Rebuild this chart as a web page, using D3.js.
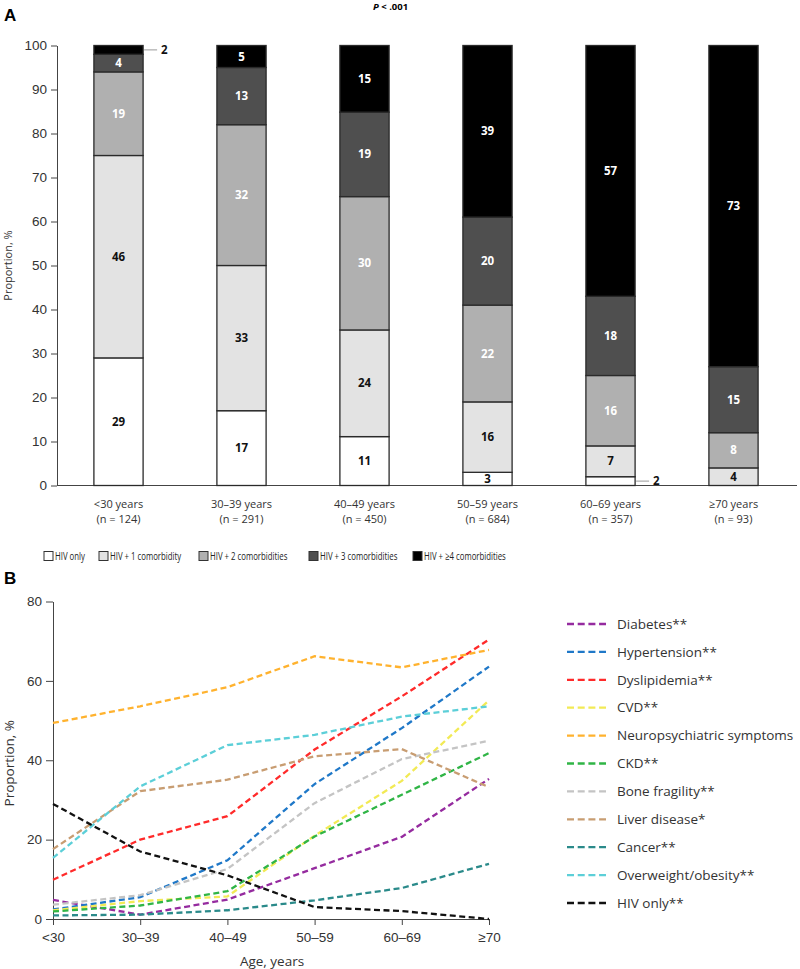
<!DOCTYPE html>
<html>
<head>
<meta charset="utf-8">
<script src="https://cdn.jsdelivr.net/npm/d3@7"></script>
<style>
  html, body { margin: 0; padding: 0; background: #fff; }
  svg { display: block; font-family: "Open Sans", "Noto Sans", sans-serif; }
  .axis path, .axis line { stroke: #444; }
  .axis text { fill: #333; }
</style>
</head>
<body>
<svg id="chart" width="800" height="969"></svg>
<script>
// --- Panel A data: comorbidity burden by age group (%)
const ageGroups = ["<30 years", "30–39 years", "40–49 years", "50–59 years", "60–69 years", "≥70 years"];
const groupN = ["(n = 124)", "(n = 291)", "(n = 450)", "(n = 684)", "(n = 357)", "(n = 93)"];
const hivOnly = [29, 17, 11, 3, 2, 0];
const oneComorb = [46, 33, 24, 16, 7, 4];
const twoComorb = [19, 32, 30, 22, 16, 8];
const threeComorb = [4, 13, 19, 20, 18, 15];
const fourPlusComorb = [2, 5, 15, 39, 57, 73];
const stackNames = ["HIV only", "HIV + 1 comorbidity", "HIV + 2 comorbidities", "HIV + 3 comorbidities", "HIV + ≥4 comorbidities"];

// --- Panel B data: prevalence of each condition by age (%)
const ageTicks = ["<30", "30–39", "40–49", "50–59", "60–69", "≥70"];
const diabetes = [4.8, 1.1, 4.9, 12.8, 20.7, 35.3];
const hypertension = [2.4, 5.5, 14.8, 34, 48.1, 63.6];
const dyslipidemia = [9.9, 20, 25.9, 42.7, 56.1, 70.4];
const cvd = [2.2, 4.5, 5.7, 21, 34.8, 55.1];
const neuropsych = [49.4, 53.6, 58.4, 66.2, 63.4, 67.8];
const ckd = [1.9, 3.4, 7, 20.8, 31.3, 41.8];
const boneFragility = [3.6, 6, 12.6, 29.2, 40.3, 44.9];
const liverDisease = [17.6, 32.2, 35.1, 41, 42.8, 33.2];
const cancer = [0.9, 1.1, 2.2, 4.7, 7.8, 13.9];
const overweight = [15.4, 33.4, 43.8, 46.4, 51, 53.6];
const hivOnlyLine = [29, 17, 11, 3, 2, 0];
const lineNames = ["Diabetes**", "Hypertension**", "Dyslipidemia**", "CVD**", "Neuropsychiatric symptoms",
  "CKD**", "Bone fragility**", "Liver disease*", "Cancer**", "Overweight/obesity**", "HIV only**"];

const svg = d3.select("#chart");

// ---------------- Panel A ----------------
const stackFill = ["#ffffff", "#e3e3e3", "#b0b0b0", "#4f4f4f", "#000000"];
const stackText = ["#111", "#111", "#fff", "#fff", "#fff"];
const seriesA = [hivOnly, oneComorb, twoComorb, threeComorb, fourPlusComorb];

const rowsA = ageGroups.map((g, i) => {
  const r = { group: g };
  stackNames.forEach((s, k) => { r[s] = seriesA[k][i]; });
  return r;
});
const stacked = d3.stack().keys(stackNames).offset(d3.stackOffsetExpand)(rowsA);

const xA = d3.scaleBand().domain(ageGroups).range([57, 795]).paddingInner(0.6).paddingOuter(0.3);
const yA = d3.scaleLinear().domain([0, 100]).range([485.5, 45.5]);

svg.append("text").attr("x", 4).attr("y", 21).attr("font-size", 17).attr("font-weight", 700)
  .attr("font-family", "Liberation Sans, Arial, sans-serif").text("A");
svg.append("text").attr("x", 373).attr("y", 10).attr("font-size", 9.5).attr("font-weight", 700)
  .html('<tspan font-style="italic">P</tspan> &lt; .001');

const yAxisA = svg.append("g").attr("class", "axis").attr("transform", "translate(57,0)")
  .call(d3.axisLeft(yA).tickValues(d3.range(0, 101, 10)).tickSize(6).tickSizeOuter(0));
yAxisA.selectAll("text").attr("font-size", 13.5).attr("dx", -1);

svg.append("line").attr("x1", 57).attr("x2", 797).attr("y1", yA(0)).attr("y2", yA(0))
  .attr("stroke", "#444");

svg.append("text").attr("transform", `translate(12,${(yA(0) + yA(100)) / 2}) rotate(-90)`)
  .attr("text-anchor", "middle").attr("font-size", 11).attr("fill", "#333").text("Proportion, %");

const layers = svg.append("g").selectAll("g").data(stacked).join("g")
  .attr("fill", (d, k) => stackFill[k]);
layers.selectAll("rect").data(d => d).join("rect")
  .attr("x", d => xA(d.data.group))
  .attr("width", xA.bandwidth())
  .attr("y", d => yA(d[1] * 100))
  .attr("height", d => yA(d[0] * 100) - yA(d[1] * 100))
  .attr("stroke", "#2a2a2a").attr("stroke-width", 1.3);

// segment labels
stacked.forEach((layer, k) => {
  layer.forEach((d, i) => {
    const v = seriesA[k][i];
    if (v === 0) return;
    const cy = yA((d[0] + d[1]) * 50);
    const x0 = xA(d.data.group);
    if (v < 3) {
      const xr = x0 + xA.bandwidth();
      svg.append("line").attr("x1", xr + 1).attr("x2", xr + 14).attr("y1", cy).attr("y2", cy)
        .attr("stroke", "#999").attr("stroke-width", 1);
      svg.append("text").attr("x", xr + 18).attr("y", cy).attr("dy", "0.35em")
        .attr("font-size", 11.5).attr("font-weight", 700).attr("fill", "#111").text(v);
    } else {
      svg.append("text").attr("x", x0 + xA.bandwidth() / 2).attr("y", cy).attr("dy", "0.35em")
        .attr("text-anchor", "middle").attr("font-size", 11.5).attr("font-weight", 700)
        .attr("fill", stackText[k]).text(v);
    }
  });
});

// category labels
ageGroups.forEach((g, i) => {
  const cx = xA(g) + xA.bandwidth() / 2;
  const t = svg.append("text").attr("text-anchor", "middle").attr("font-size", 11).attr("fill", "#333");
  t.append("tspan").attr("x", cx).attr("y", 508).text(g);
  t.append("tspan").attr("x", cx).attr("y", 523).text(groupN[i]);
});

// legend A (condensed text, like the original)
const legendAX = [44, 99, 199, 309, 413];
stackNames.forEach((s, k) => {
  svg.append("rect").attr("x", legendAX[k]).attr("y", 551.5).attr("width", 9).attr("height", 9)
    .attr("fill", stackFill[k]).attr("stroke", "#333").attr("stroke-width", 1);
  svg.append("text").attr("transform", `translate(${legendAX[k] + 11},556) scale(0.71,1)`)
    .attr("dy", "0.35em").attr("font-size", 11).attr("fill", "#222").text(s);
});

// ---------------- Panel B ----------------
const seriesB = [diabetes, hypertension, dyslipidemia, cvd, neuropsych, ckd, boneFragility,
  liverDisease, cancer, overweight, hivOnlyLine];
const lineColors = ["#952b9f", "#1f78c8", "#ff2a2a", "#f2ea55", "#ffb22e", "#30b546", "#c4c4c4",
  "#c89d72", "#2a8a8a", "#5ccfd8", "#111111"];

const xB = d3.scalePoint().domain(ageTicks).range([53, 489]);
const yB = d3.scaleLinear().domain([0, 80]).range([919, 601.5]);

svg.append("text").attr("x", 4).attr("y", 584).attr("font-size", 17).attr("font-weight", 700)
  .attr("font-family", "Liberation Sans, Arial, sans-serif").text("B");

const yAxisB = svg.append("g").attr("class", "axis").attr("transform", "translate(53,0)")
  .call(d3.axisLeft(yB).tickValues([0, 20, 40, 60, 80]).tickSize(7).tickSizeOuter(0));
yAxisB.selectAll("text").attr("font-size", 13.5).attr("dx", -1);

const xAxisB = svg.append("g").attr("class", "axis").attr("transform", `translate(0,${yB(0)})`)
  .call(d3.axisBottom(xB).tickSize(6).tickSizeOuter(0));
xAxisB.selectAll("text").attr("font-size", 13.5).attr("dy", "1.05em");

svg.append("text").attr("x", 272).attr("y", 966).attr("text-anchor", "middle")
  .attr("font-size", 13.5).attr("fill", "#333").text("Age, years");
svg.append("text").attr("transform", `translate(14,${(yB(0) + yB(80)) / 2 + 3}) rotate(-90)`)
  .attr("text-anchor", "middle").attr("font-size", 13.5).attr("fill", "#333").text("Proportion, %");

const line = d3.line().x((d, i) => xB(ageTicks[i])).y(d => yB(d));
svg.append("g").selectAll("path").data(seriesB).join("path")
  .attr("d", d => line(d))
  .attr("fill", "none")
  .attr("stroke", (d, k) => lineColors[k])
  .attr("stroke-width", 2.3)
  .attr("stroke-dasharray", "6,3.5");

// legend B
const legB = svg.append("g").attr("transform", "translate(567,624)");
lineNames.forEach((nm, k) => {
  const gy = k * 27.9;
  legB.append("line").attr("x1", 0).attr("x2", 39).attr("y1", gy).attr("y2", gy)
    .attr("stroke", lineColors[k]).attr("stroke-width", 2.3).attr("stroke-dasharray", "7,3.7");
  legB.append("text").attr("x", 50).attr("y", gy).attr("dy", "0.35em")
    .attr("font-size", 13.5).attr("fill", "#333").text(nm);
});
</script>
</body>
</html>
